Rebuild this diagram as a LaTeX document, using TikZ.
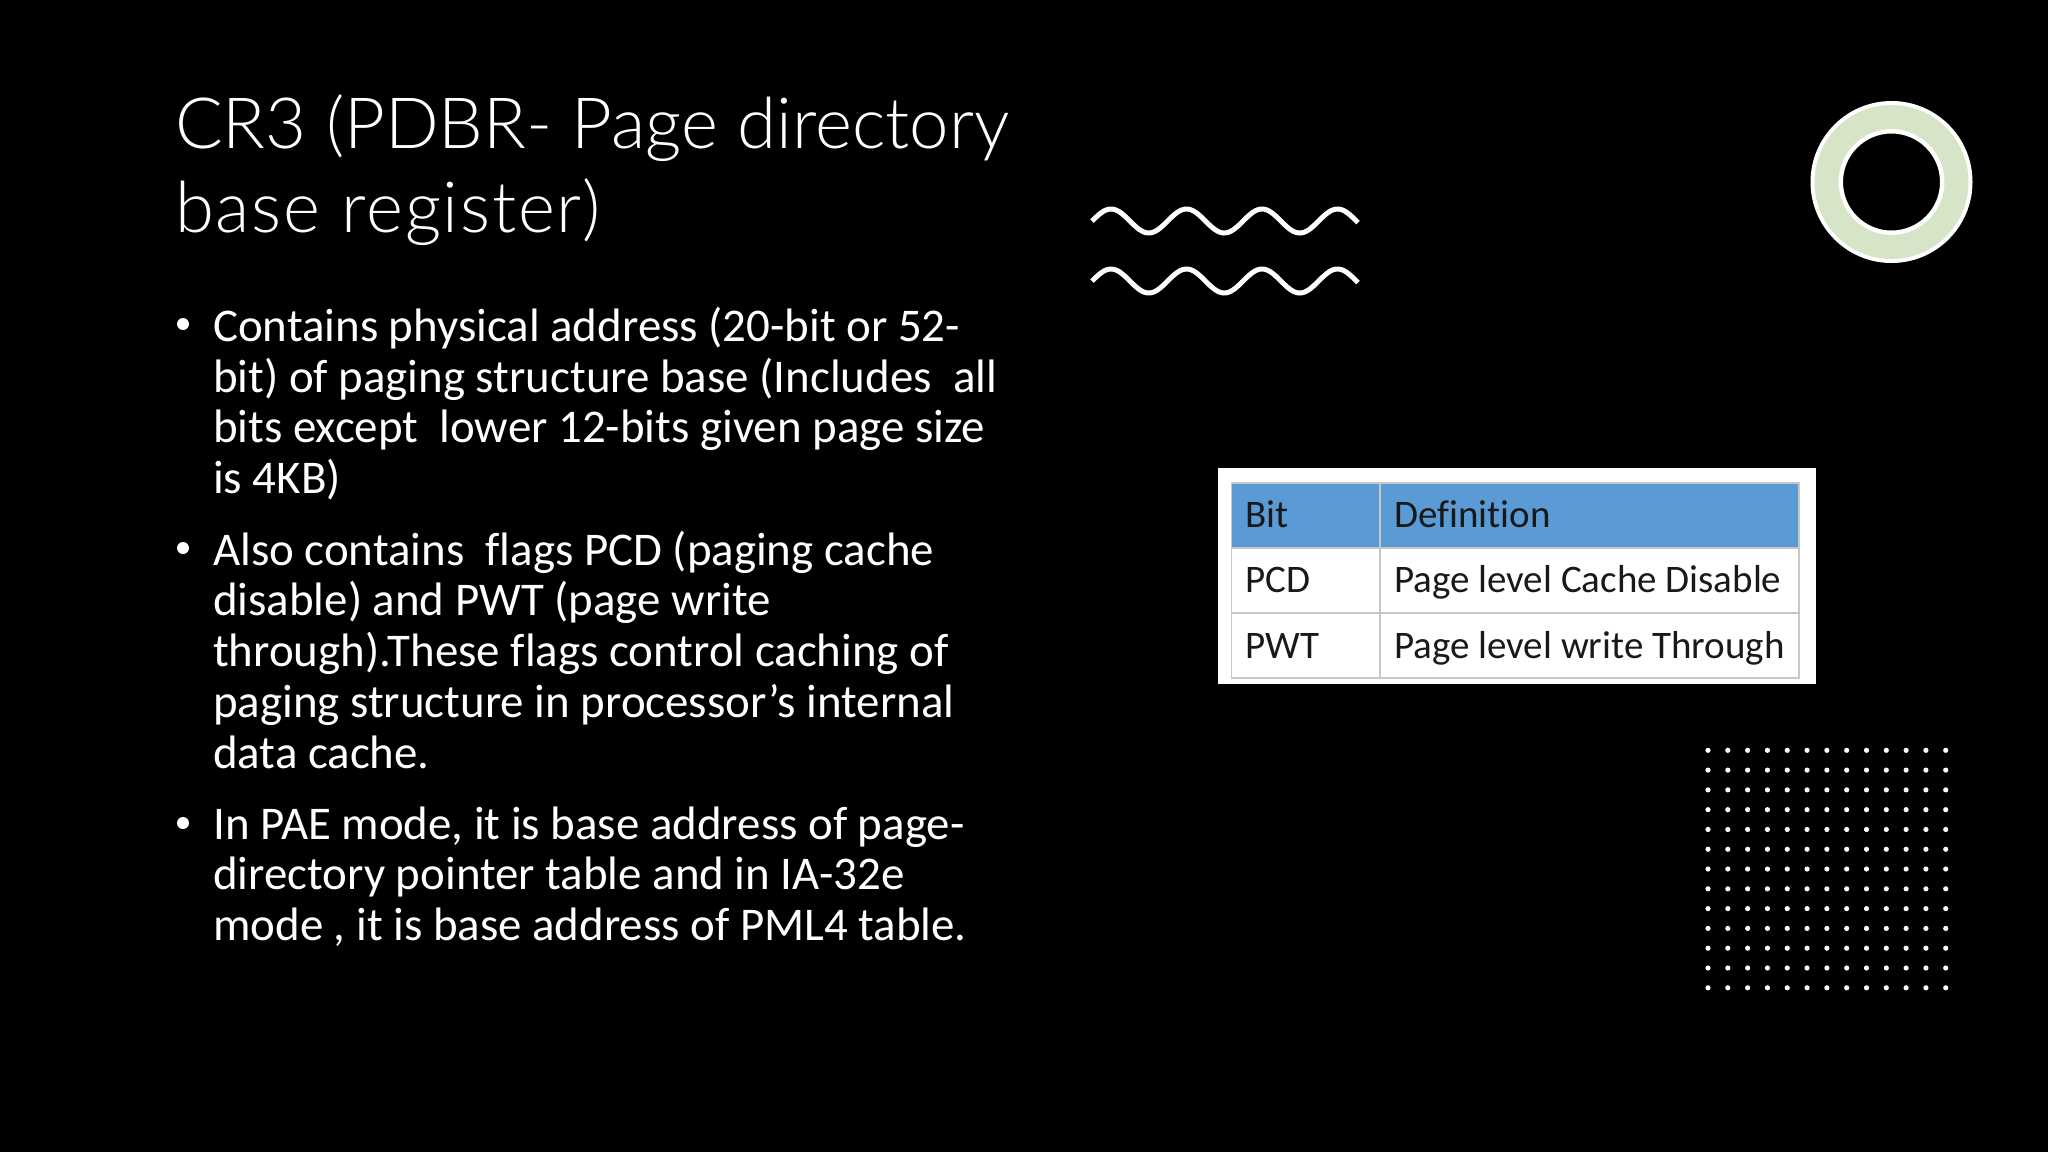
\documentclass[tikz,border=0pt]{standalone}
\usepackage{fontspec}
\setmainfont{Carlito}[Ligatures=CommonOff]
\newfontfamily\lightfont{Lato}[UprightFont=* Light,Ligatures=CommonOff]
\definecolor{ringgreen}{RGB}{214,228,200}
\definecolor{headblue}{RGB}{91,155,213}
\tikzset{
  titleline/.style={anchor=base west,inner sep=0pt,text=white,font=\lightfont\fontsize{70.7}{88}\selectfont},
  bodyline/.style={anchor=base west,inner sep=0pt,text=white,font=\fontsize{46.9}{51}\selectfont},
  bulletdot/.style={circle,fill=white,draw=none,minimum size=12pt,inner sep=0pt},
  cell/.style={anchor=base west,inner sep=0pt,text=black!90,font=\fontsize{39}{40}\selectfont},
  tablerule/.style={draw=black!22,line width=1.4pt},
  wave/.style={draw=white,line width=5pt,smooth},
  griddot/.style={fill=white,draw=none}
}
\begin{document}
\begin{tikzpicture}[x=1pt,y=-1pt]
\useasboundingbox (0,0) rectangle (2048,1152);
\fill[black] (0,0) rectangle (2048,1152);
% title
\node[titleline] (t1) at (175,148) {CR3 (PDBR- Page directory};
\node[titleline] (t2) at (175,232) {\addfontfeature{LetterSpace=2.5}base register)};
% bullets
\node[bulletdot] (b1) at (183,324) {};
\node[bulletdot] (b2) at (183,548) {};
\node[bulletdot] (b3) at (183,823) {};
% body
\node[bodyline] (l1) at (213,341) {Contains physical address (20-bit or 52-};
\node[bodyline] (l2) at (213,392) {bit) of paging structure base (Includes\ \ all};
\node[bodyline] (l3) at (213,442) {bits except\ \ lower 12-bits given page size};
\node[bodyline] (l4) at (213,493) {is 4KB)};
\node[bodyline] (l5) at (213,565) {Also contains\ \ flags PCD (paging cache};
\node[bodyline] (l6) at (213,615) {disable) and PWT (page write};
\node[bodyline] (l7) at (213,666) {through).These flags control caching of};
\node[bodyline] (l8) at (213,717) {paging structure in processor’s internal};
\node[bodyline] (l9) at (213,768) {data cache.};
\node[bodyline] (l10) at (213,839) {In PAE mode, it is base address of page-};
\node[bodyline] (l11) at (213,889) {directory pointer table and in IA-32e};
\node[bodyline] (l12) at (213,940) {mode , it is base address of PML4 table.};
% waves
\draw[wave] plot[domain=1092:1358,samples=120] (\x,{221-12*cos(4.768*(\x-1111))});
\draw[wave] plot[domain=1092:1358,samples=120] (\x,{281-12*cos(4.768*(\x-1111))});
% ring
\fill[white,even odd rule] (1891.5,182) circle[radius=81] (1891.5,182) circle[radius=48.5];
\fill[ringgreen,even odd rule] (1891.5,182) circle[radius=77] (1891.5,182) circle[radius=53];
% table
\fill[white] (1218,468) rectangle (1815.5,684);
\fill[headblue] (1231.5,483) rectangle (1799,548);
\draw[tablerule] (1231.5,483) rectangle (1799,678);
\draw[tablerule] (1231.5,548) -- (1799,548);
\draw[tablerule] (1231.5,613) -- (1799,613);
\draw[tablerule] (1380,483) -- (1380,678);
\node[cell] (c1) at (1245,527) {Bit};
\node[cell] (c2) at (1394,527) {Definition};
\node[cell] (c3) at (1245,592) {PCD};
\node[cell] (c4) at (1394,592) {Page level Cache Disable};
\node[cell] (c5) at (1245,658) {PWT};
\node[cell] (c6) at (1394,658) {Page level write Through};
% dot grid
\foreach \i in {0,...,12}
  \foreach \j in {0,...,12}
    \fill[griddot] ({1708+19.81*\i},{750.3+19.79*\j}) circle[radius=2.6];
\end{tikzpicture}
\end{document}
